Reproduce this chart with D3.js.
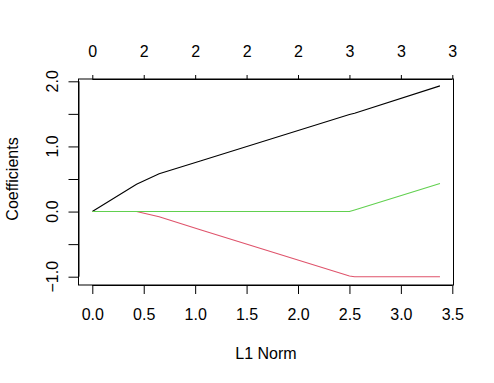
<!DOCTYPE html>
<html><head><meta charset="utf-8">
<script src="https://cdn.jsdelivr.net/npm/d3@7"></script>
<style>body{margin:0;background:#fff}svg{display:block}text{font-family:"Liberation Sans",Arial,sans-serif;fill:#000}</style>
</head><body>
<script>
const l1Norm = [0, 0.43, 0.65, 1.05, 2.5, 2.55, 3.38];
const coefBlack = [0, 0.42, 0.58, 0.775, 1.49, 1.51, 1.93];
const coefRed = [0, 0, -0.08, -0.28, -0.99, -1.0, -1.0];
const coefGreen = [0, 0, 0, 0, 0, 0.024, 0.43];
const bottomTicks = [0, 0.5, 1, 1.5, 2, 2.5, 3, 3.5];
const topLabels = ["0", "2", "2", "2", "2", "3", "3", "3"];
const yTicks = [-1, -0.5, 0, 0.5, 1, 1.5, 2];
const yLabelTicks = [-1, 0, 1, 2];
const seriesColors = ["#000000", "#DF536B", "#61D04F"];

const W = 494, H = 383;
const box = {left: 78.5, right: 453.5, top: 79, bottom: 285};
const x = d3.scaleLinear().domain([0, 3.5]).range([92.3, 452.3]);
const y = d3.scaleLinear().domain([-1, 2]).range([276.7, 81.3]);

const svg = d3.select("body").append("svg").attr("width", W).attr("height", H);

const series = [coefBlack, coefRed, coefGreen];
const line = d3.line().x(d => x(d[0])).y(d => y(d[1]));
series.forEach((vals, i) => {
  svg.append("path").datum(l1Norm.map((v, j) => [v, vals[j]]))
    .attr("d", line).attr("fill", "none")
    .attr("stroke", seriesColors[i]).attr("stroke-width", 1.1);
});

svg.append("rect").attr("x", box.left).attr("y", box.top)
  .attr("width", box.right - box.left).attr("height", box.bottom - box.top)
  .attr("fill", "none").attr("stroke", "#000").attr("stroke-width", 1);

const fs = 16;
// bottom axis
const gb = svg.append("g").attr("transform", `translate(0,${box.bottom})`)
  .call(d3.axisBottom(x).tickValues(bottomTicks).tickFormat(d3.format(".1f")).tickSizeOuter(0).tickSizeInner(9).tickPadding(15));
gb.select(".domain").attr("d", `M${x(0)},0.5H${x(3.5)}`);
gb.selectAll("text").attr("font-size", fs).attr("font-family", "Liberation Sans, Arial, sans-serif");

// top axis
const gt = svg.append("g").attr("transform", `translate(0,${box.top})`)
  .call(d3.axisTop(x).tickValues(bottomTicks).tickFormat((d, i) => topLabels[i]).tickSizeOuter(0).tickSizeInner(4).tickPadding(18.5));
gt.select(".domain").attr("d", `M${x(0)},0.5H${x(3.5)}`);
gt.selectAll("text").attr("font-size", fs).attr("font-family", "Liberation Sans, Arial, sans-serif");

// left axis
const gl = svg.append("g").attr("transform", `translate(${box.left},0)`)
  .call(d3.axisLeft(y).tickValues(yTicks).tickFormat(d => yLabelTicks.includes(d) ? d3.format(".1f")(d) : "").tickSizeOuter(0).tickSizeInner(10));
gl.select(".domain").attr("d", `M0.5,${y(-1)}V${y(2)}`);
gl.selectAll("text").remove();
yLabelTicks.forEach(v => {
  svg.append("text").attr("transform", `translate(57.5,${y(v)}) rotate(-90)`)
    .attr("text-anchor", "middle").attr("font-size", fs).text(d3.format(".1f")(v));
});

// axis titles
svg.append("text").attr("x", (box.left + box.right) / 2).attr("y", 358.5)
  .attr("text-anchor", "middle").attr("font-size", fs).text("L1 Norm");
svg.append("text").attr("transform", `translate(17.5,${179}) rotate(-90)`)
  .attr("text-anchor", "middle").attr("font-size", fs).text("Coefficients");
</script>
</body></html>
